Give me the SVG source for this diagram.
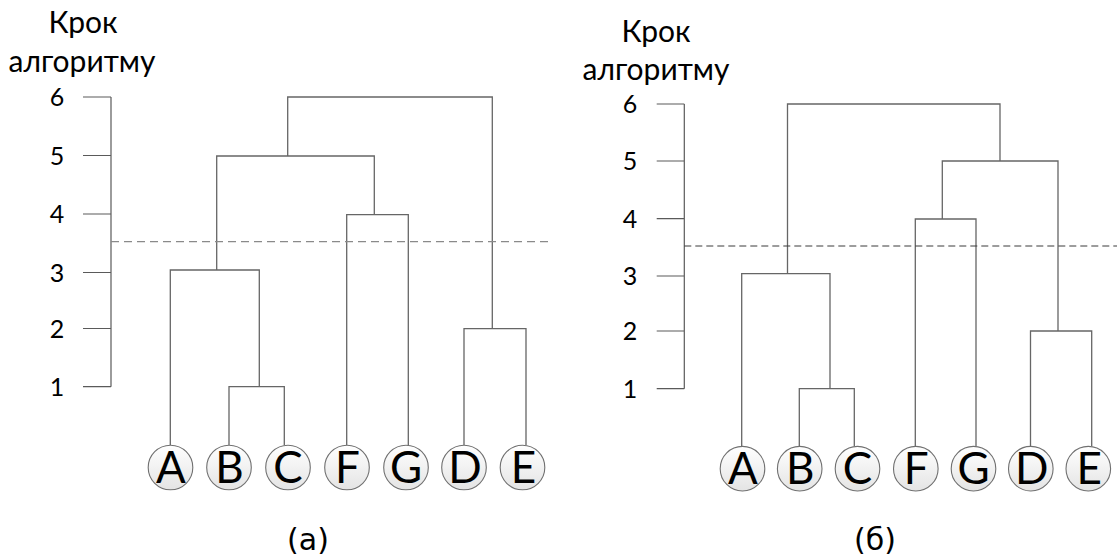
<svg xmlns="http://www.w3.org/2000/svg" width="1117" height="558" viewBox="0 0 1117 558">
  <defs>
    <linearGradient id="leafFill" x1="0" y1="0" x2="0" y2="1">
      <stop offset="0" stop-color="#ffffff"/>
      <stop offset="1" stop-color="#e4e4e4"/>
    </linearGradient>
    <style>
      .lbl { font-family: Lato, "Open Sans", "DejaVu Sans", sans-serif; fill: #000; }
      .title { font-size: 30px; text-anchor: middle; }
      .tick { font-size: 25px; text-anchor: middle; }
      .leaf circle { fill: url(#leafFill); stroke: #707070; stroke-width: 1.1; }
      .leaf text { font-family: Lato, "Open Sans", "DejaVu Sans", sans-serif; font-size: 44px; text-anchor: middle; fill: #000; }
      .axis { fill: none; stroke: #5a5a5a; stroke-width: 1.2; }
      .link { fill: none; stroke: #666; stroke-width: 1.3; }
      .cutA { fill: none; stroke: #8a8a8a; stroke-width: 1.2; stroke-dasharray: 8 5; }
      .cutB { fill: none; stroke: #3a3a3a; stroke-width: 1; stroke-dasharray: 7 4; }
      .caption { font-family: "DejaVu Sans", "Liberation Sans", sans-serif; font-size: 30px; text-anchor: middle; fill: #000; }
    </style>
  </defs>

  <!-- ===== Panel (a) ===== -->
  <g id="panel-a">
    <g id="axis-a">
      <text class="lbl title" x="83" y="33">Крок</text>
      <text class="lbl title" x="82" y="72">алгоритму</text>
      <path class="axis" d="M111 97 V386.7 M83 97 H111 M83 155.5 H111 M83 214 H111 M83 272.5 H111 M83 328.5 H111 M83 386.7 H111"/>
      <text class="lbl tick" x="57" y="106">6</text>
      <text class="lbl tick" x="57" y="164.5">5</text>
      <text class="lbl tick" x="57" y="223">4</text>
      <text class="lbl tick" x="57" y="281.5">3</text>
      <text class="lbl tick" x="57" y="337.5">2</text>
      <text class="lbl tick" x="57" y="395.7">1</text>
    </g>

    <g id="connectors-a">
      <!-- A with (B,C) -->
      <path class="link" d="M170.3 445 V270 H259.3 V386.7"/>
      <path class="link" d="M229 445 V386.7 H284.3 V445"/>
      <!-- (F,G) -->
      <path class="link" d="M346.7 445 V214.7 H408.3 V445"/>
      <!-- level 5 merge -->
      <path class="link" d="M216.7 270 V156 H374.3 V214.7"/>
      <!-- (D,E) -->
      <path class="link" d="M464 445 V328.7 H526 V445"/>
      <!-- level 6 merge -->
      <path class="link" d="M287.7 156 V97 H492.3 V328.7"/>
      <!-- cut level -->
      <path class="cutA" d="M111 241.7 H553"/>
    </g>

    <g id="leaf-a-A" class="leaf"><circle cx="170.5" cy="467.5" r="22.3"/><text x="171" y="483">A</text></g>
    <g id="leaf-a-B" class="leaf"><circle cx="229" cy="467.5" r="22.3"/><text x="229.5" y="483">B</text></g>
    <g id="leaf-a-C" class="leaf"><circle cx="288" cy="467.5" r="22.3"/><text x="288" y="483">C</text></g>
    <g id="leaf-a-F" class="leaf"><circle cx="347" cy="467.5" r="22.3"/><text x="347.5" y="483">F</text></g>
    <g id="leaf-a-G" class="leaf"><circle cx="406" cy="467.5" r="22.3"/><text x="406" y="483">G</text></g>
    <g id="leaf-a-D" class="leaf"><circle cx="464" cy="467.5" r="22.3"/><text x="465" y="483">D</text></g>
    <g id="leaf-a-E" class="leaf"><circle cx="522.5" cy="467.5" r="22.3"/><text x="523.5" y="483">E</text></g>

    <text id="caption-a" class="caption" x="308" y="550">(а)</text>
  </g>

  <!-- ===== Panel (б) ===== -->
  <g id="panel-b">
    <g id="axis-b">
      <text class="lbl title" x="656" y="42">Крок</text>
      <text class="lbl title" x="656" y="80">алгоритму</text>
      <path class="axis" d="M684.3 104 V388.7 M656.7 104 H684.3 M656.7 161 H684.3 M656.7 218.7 H684.3 M656.7 276 H684.3 M656.7 331 H684.3 M656.7 388.7 H684.3"/>
      <text class="lbl tick" x="630" y="113">6</text>
      <text class="lbl tick" x="630" y="170">5</text>
      <text class="lbl tick" x="630" y="228">4</text>
      <text class="lbl tick" x="630" y="285">3</text>
      <text class="lbl tick" x="630" y="340">2</text>
      <text class="lbl tick" x="630" y="397.5">1</text>
    </g>

    <g id="connectors-b">
      <!-- A with (B,C) -->
      <path class="link" d="M741.7 446 V273.7 H830 V388.7"/>
      <path class="link" d="M799.3 446 V388.7 H854.3 V446"/>
      <!-- (F,G) -->
      <path class="link" d="M915.3 446 V219 H976 V446"/>
      <!-- (D,E) -->
      <path class="link" d="M1030.5 446 V331 H1091.7 V446"/>
      <!-- level 5 merge -->
      <path class="link" d="M942.3 219 V161 H1058 V331"/>
      <!-- level 6 merge -->
      <path class="link" d="M787.5 273.7 V104 H1000 V161"/>
      <!-- cut level -->
      <path class="cutB" d="M684.3 246 H1117"/>
    </g>

    <g id="leaf-b-A" class="leaf"><circle cx="742.5" cy="468.7" r="22.3"/><text x="743" y="484.2">A</text></g>
    <g id="leaf-b-B" class="leaf"><circle cx="799.7" cy="468.7" r="22.3"/><text x="800.2" y="484.2">B</text></g>
    <g id="leaf-b-C" class="leaf"><circle cx="857.5" cy="468.7" r="22.3"/><text x="857.5" y="484.2">C</text></g>
    <g id="leaf-b-F" class="leaf"><circle cx="915.8" cy="468.7" r="22.3"/><text x="916.3" y="484.2">F</text></g>
    <g id="leaf-b-G" class="leaf"><circle cx="973.5" cy="468.7" r="22.3"/><text x="973.5" y="484.2">G</text></g>
    <g id="leaf-b-D" class="leaf"><circle cx="1030.8" cy="468.7" r="22.3"/><text x="1031.8" y="484.2">D</text></g>
    <g id="leaf-b-E" class="leaf"><circle cx="1088.3" cy="468.7" r="22.3"/><text x="1089.3" y="484.2">E</text></g>

    <text id="caption-b" class="caption" x="875" y="550">(б)</text>
  </g>
</svg>
